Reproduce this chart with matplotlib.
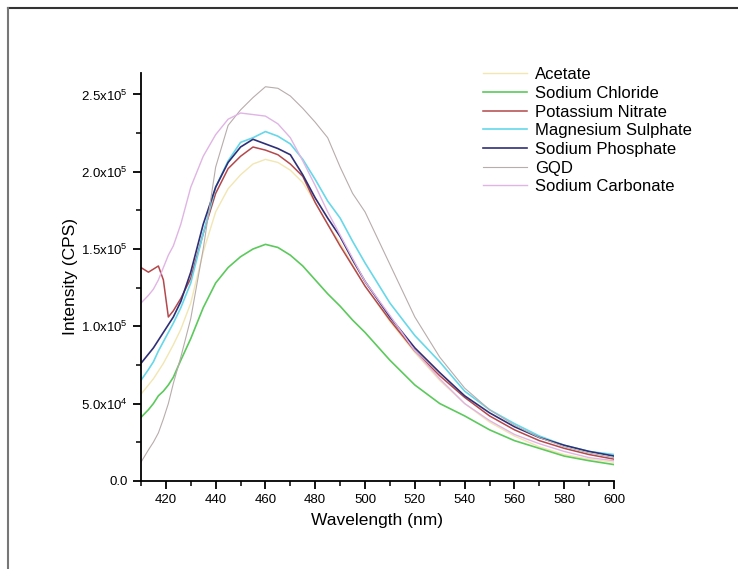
import matplotlib
matplotlib.use('Agg')
import matplotlib.pyplot as plt
from matplotlib.ticker import MultipleLocator, FuncFormatter
from matplotlib.lines import Line2D

plt.rcParams['font.family'] = ['Liberation Sans', 'DejaVu Sans']
plt.rcParams['mathtext.fontset'] = 'custom'
plt.rcParams['mathtext.rm'] = 'Liberation Sans'
plt.rcParams['mathtext.it'] = 'Liberation Sans'

# wavelength grid (nm)
wavelength = [410, 413, 415, 417, 419, 421, 423, 426, 430, 435, 440, 445, 450, 455, 460, 465,
              470, 475, 480, 485, 490, 495, 500, 510, 520, 530, 540, 550, 560, 570, 580, 590, 600]

# intensities in units of 1e3 CPS
acetate = [56, 62, 66, 71, 76, 82, 88, 98, 115, 148, 174, 189, 198, 205, 208, 206,
           201, 193, 180, 166, 154, 140, 126, 103, 83, 65, 50, 38, 29, 22, 17, 14, 12]
sodium_chloride = [41, 46, 50, 55, 58, 62, 67, 78, 92, 112, 128, 138, 145, 150, 153, 151,
                   146, 139, 130, 121, 113, 104, 96, 78, 62, 50, 42, 33, 26, 21, 16, 13, 10.5]
potassium_nitrate = [138, 135, 137, 139, 130, 106, 110, 118, 131, 160, 186, 202, 210, 216, 214, 211,
                     205, 197, 180, 166, 152, 139, 126, 104, 84, 68, 54, 42, 33, 26, 21, 17, 14]
magnesium_sulphate = [65, 72, 77, 84, 90, 96, 102, 112, 128, 160, 190, 207, 219, 222, 226, 223,
                      218, 208, 195, 181, 170, 155, 141, 115, 94, 77, 58, 46, 37, 29, 23, 19, 17]
sodium_phosphate = [76, 82, 86, 91, 96, 101, 106, 116, 135, 166, 190, 206, 216, 221, 218, 215,
                    211, 198, 183, 170, 158, 143, 129, 106, 86, 70, 55, 44, 35, 28, 23, 19, 16]
gqd = [12, 20, 25, 31, 40, 50, 63, 80, 105, 150, 203, 230, 240, 248, 255, 254,
       249, 241, 232, 222, 203, 186, 174, 140, 106, 80, 60, 46, 36, 28, 22, 18, 15]
sodium_carbonate = [115, 120, 124, 130, 138, 146, 152, 166, 190, 210, 224, 234, 238, 237, 236, 231,
                    222, 207, 191, 174, 159, 144, 129, 107, 84, 66, 50, 39, 30, 24, 19, 15, 13]

labels = ['Acetate', 'Sodium Chloride', 'Potassium Nitrate', 'Magnesium Sulphate',
          'Sodium Phosphate', 'GQD', 'Sodium Carbonate']
series = [acetate, sodium_chloride, potassium_nitrate, magnesium_sulphate,
          sodium_phosphate, gqd, sodium_carbonate]
colors = ['#f2e6b2', '#5cc95c', '#b4484c', '#66d8ea', '#2f2f78', '#b8acac', '#e0b4e4']
widths = [1.0, 1.2, 1.1, 1.2, 1.2, 0.8, 1.0]

fig = plt.figure(figsize=(7.38, 5.69), dpi=100)
ax = fig.add_axes([0.191, 0.155, 0.641, 0.717])

for vals, lab, c, w in zip(series, labels, colors, widths):
    ax.plot(wavelength, [v * 1e3 for v in vals], color=c, lw=w, label=lab)

ax.set_xlim(410, 600)
ax.set_ylim(0, 264000)
ax.xaxis.set_major_locator(MultipleLocator(20))
ax.xaxis.set_minor_locator(MultipleLocator(10))
ax.yaxis.set_major_locator(MultipleLocator(50000))
ax.yaxis.set_minor_locator(MultipleLocator(25000))


def sci(v, pos):
    if v == 0:
        return '0.0'
    exp = len(str(int(v))) - 1
    return r'%.1fx10$^{%d}$' % (v / 10 ** exp, exp)


ax.yaxis.set_major_formatter(FuncFormatter(sci))
for s in ['top', 'right']:
    ax.spines[s].set_visible(False)
for s in ['left', 'bottom']:
    ax.spines[s].set_linewidth(1.3)
ax.tick_params(which='major', direction='out', length=6, width=1.3, labelsize=9.5)
ax.tick_params(which='minor', direction='out', length=3.5, width=1.1)
ax.set_xticks([420, 440, 460, 480, 500, 520, 540, 560, 580, 600])
ax.set_xlabel('Wavelength (nm)', fontsize=12.5, labelpad=5)
ax.set_ylabel('Intensity (CPS)', fontsize=12.5, labelpad=2)

ax.legend(loc='upper left', bbox_to_anchor=(0.71, 1.03), frameon=False, fontsize=12,
          handlelength=2.6, handletextpad=0.5, labelspacing=0.22, borderaxespad=0)

# outer frame (top and left edges visible)
fig.add_artist(Line2D([8 / 738, 1], [1 - 8 / 569, 1 - 8 / 569], transform=fig.transFigure,
                      color='#333333', lw=1.5))
fig.add_artist(Line2D([8 / 738, 8 / 738], [0, 1 - 8 / 569], transform=fig.transFigure,
                      color='#777777', lw=1.5))

fig.savefig('out.png', dpi=100)
